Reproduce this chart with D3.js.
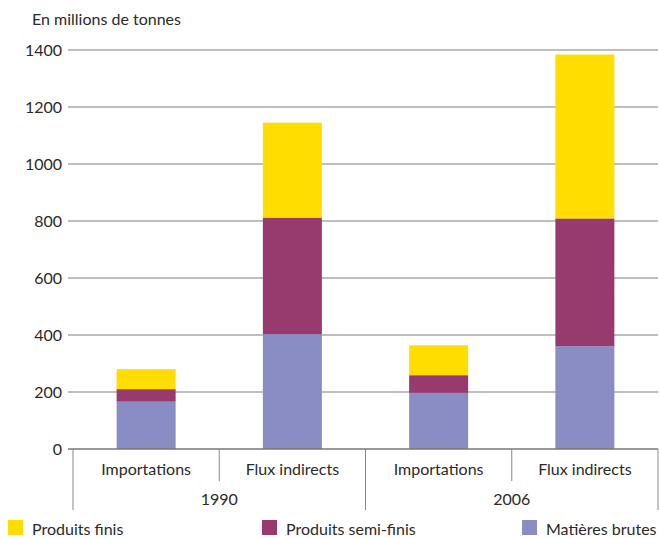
<!DOCTYPE html>
<html><head><meta charset="utf-8">
<script src="https://cdn.jsdelivr.net/npm/d3@7"></script>
<style>body{margin:0;background:#fff}svg{display:block}text{font-family:Lato,"Open Sans",sans-serif;fill:#2a2a2a}</style>
</head><body><svg id="c" width="659" height="538"></svg>
<script>
const years = ["1990", "2006"];
const flows = ["Importations", "Flux indirects"];
const series = ["Produits finis", "Produits semi-finis", "Matières brutes"];
const colors = ["#FFDD00", "#973A6D", "#8A8DC3"];
// stacked order bottom->top: Matières brutes, Produits semi-finis, Produits finis
const matieresBrutes = [166, 403, 197, 361];
const semiFinis = [44, 409, 62, 448];
const produitsFinis = [70, 333, 105, 575];
const yTicks = [0, 200, 400, 600, 800, 1000, 1200, 1400];

(function () {
const svg = d3.select("#c");
const mLeft = 73, mRight = 658, mTop = 50, mBottom = 449;
const fs = 16;
const cats = [];
years.forEach(yr => flows.forEach(f => cats.push(yr + "|" + f)));
const rows = cats.map((c, i) => ({cat: c, "Matières brutes": matieresBrutes[i], "Produits semi-finis": semiFinis[i], "Produits finis": produitsFinis[i]}));

const x = d3.scaleBand().domain(cats).range([mLeft, mRight]).paddingInner(0).paddingOuter(0);
const y = d3.scaleLinear().domain([0, 1400]).range([mBottom, mTop]);

svg.append("g").selectAll("line").data(yTicks.filter(d => d > 0)).join("line")
  .attr("x1", mLeft - 5).attr("x2", mRight).attr("y1", d => y(d)).attr("y2", d => y(d))
  .attr("stroke", "#a8a8a8").attr("stroke-width", 1.5);

const yAxis = d3.axisLeft(y).tickValues(yTicks).tickFormat(d3.format("d")).tickSize(0).tickPadding(6);
const gy = svg.append("g").attr("transform", `translate(${mLeft - 5},0)`).call(yAxis);
gy.select(".domain").remove();
gy.selectAll("text").attr("font-size", fs).attr("font-family", "Lato, sans-serif").attr("fill", "#2a2a2a");

const stackOrder = ["Matières brutes", "Produits semi-finis", "Produits finis"];
const stacked = d3.stack().keys(stackOrder)(rows);
const bw = 59;
svg.append("g").selectAll("g").data(stacked).join("g")
  .attr("fill", d => colors[series.indexOf(d.key)])
  .selectAll("rect").data(d => d).join("rect")
  .attr("x", d => x(d.data.cat) + x.bandwidth() / 2 - bw / 2)
  .attr("width", bw)
  .attr("y", d => y(d[1]))
  .attr("height", d => y(d[0]) - y(d[1]));

svg.append("line").attr("x1", mLeft - 5).attr("x2", mRight).attr("y1", mBottom).attr("y2", mBottom)
  .attr("stroke", "#777").attr("stroke-width", 1.5);

const seps = [];
cats.forEach((c, i) => { seps.push({xv: x(c), long: i % 2 === 0}); });
seps.push({xv: mRight, long: true});
svg.append("g").selectAll("line").data(seps).join("line")
  .attr("x1", d => d.xv).attr("x2", d => d.xv)
  .attr("y1", mBottom).attr("y2", d => d.long ? 510 : 481)
  .attr("stroke", "#888").attr("stroke-width", 1);

svg.append("g").selectAll("text").data(cats).join("text")
  .attr("x", d => x(d) + x.bandwidth() / 2).attr("y", 475)
  .attr("text-anchor", "middle").attr("font-size", fs)
  .text(d => d.split("|")[1]);
svg.append("g").selectAll("text").data(years).join("text")
  .attr("x", d => (x(d + "|" + flows[0]) + x(d + "|" + flows[1]) + x.bandwidth()) / 2)
  .attr("y", 505).attr("text-anchor", "middle").attr("font-size", fs)
  .text(d => d);

svg.append("text").attr("x", 32).attr("y", 25).attr("font-size", fs).text("En millions de tonnes");

const legX = [8, 262, 522];
const lg = svg.append("g").selectAll("g").data(series).join("g")
  .attr("transform", (d, i) => `translate(${legX[i]},520)`);
lg.append("rect").attr("width", 15).attr("height", 15).attr("fill", (d, i) => colors[i]);
lg.append("text").attr("x", 24).attr("y", 15).attr("font-size", fs).text(d => d);
})();
</script></body></html>
